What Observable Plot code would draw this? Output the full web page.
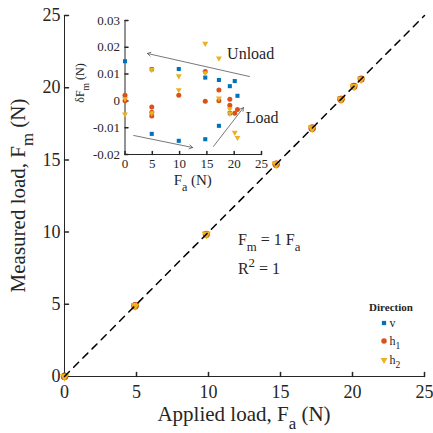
<!DOCTYPE html>
<html><head><meta charset="utf-8">
<script src="https://cdn.jsdelivr.net/npm/d3@7"></script>
<script src="https://cdn.jsdelivr.net/npm/@observablehq/plot@0.6"></script>
<style>
body{margin:0;background:#fff;}
#wrap{position:relative;width:433px;height:433px;overflow:hidden;}
#wrap svg{position:absolute;overflow:visible;}
</style></head><body><div id="wrap"></div>
<script>
// ---------- data ----------
const xTicks = [0, 5, 10, 15, 20, 25];
const yTicks = [0, 5, 10, 15, 20, 25];
const insetXTicks = [0, 5, 10, 15, 20, 25];
const insetYTicks = [-0.02, -0.01, 0, 0.01, 0.02, 0.03];

const directions = ["v", "h1", "h2"];
const dirColors = ["#0072BD", "#D95319", "#EDB120"];

const vApplied = [0, 4.9, 4.9, 9.85, 9.85, 14.7, 14.7, 17.2, 17.2, 19.2, 19.2, 20.1, 20.6];
const vDelta   = [0.0148, 0.0118, -0.0123, 0.0119, -0.0149, 0.0087, -0.0143, 0.0078, -0.0093, 0.0055, -0.0046, 0.0074, 0.0019];

const h1Applied = [0, 0, 4.9, 4.9, 4.9, 9.85, 14.7, 14.7, 17.2, 17.2, 19.2, 19.2, 20.1, 20.6];
const h1Delta   = [0.0021, 0.0001, -0.0023, -0.0042, -0.0056, 0.0021, 0.0110, -0.0001, 0.0041, 0.0001, 0.0006, -0.0016, -0.0046, -0.0032];

const h2Applied = [0, 0, 4.9, 4.9, 9.85, 9.85, 14.7, 14.7, 17.2, 17.2, 19.2, 19.2, 20.1, 20.6];
const h2Delta   = [0.0008, -0.0050, 0.0116, -0.0045, 0.0093, 0.0041, 0.0214, 0.0104, 0.0159, 0.0010, -0.0030, -0.0047, -0.0118, -0.0137];

const fitSlope = 1;
const fitRange = [0, 25];

// inset annotation arrows (data coordinates of inset)
const insetArrows = [
  {x1: 22.8, y1: 0.0091, x2: 4.1, y2: 0.0177},
  {x1: 16.2, y1: -0.0170, x2: 21.7, y2: -0.0025},
  {x1: 1.6, y1: -0.0129, x2: 12.4, y2: -0.0174}
];
const insetLabels = [
  {x: 18.7, y: 0.0176, text: "Unload"},
  {x: 22.1, y: -0.0063, text: "Load"}
];
const fitTextPos = {x: 12.08, y1: 9.07, y2: 7.06};

// ---------- build rows ----------
function rows(dir, A, D) { return A.map((a, i) => ({dir, applied: a, delta: D[i], measured: a + D[i]})); }
const vRows = rows("v", vApplied, vDelta);
const h1Rows = rows("h1", h1Applied, h1Delta);
const h2Rows = rows("h2", h2Applied, h2Delta);

const FONT = '"Liberation Serif","Times New Roman",serif';
const INK = "#262626";
const tickShape = {draw(ctx, l) { ctx.moveTo(0, 0); ctx.lineTo(0, -l); }};

function rich(sel, parts, size) {
  let shift = 0;
  for (const [t, k] of parts) {
    const target = k === "sub" ? size * 0.4 : k === "sup" ? -size * 0.42 : 0;
    const ts = sel.append("tspan").text(t).attr("dy", target - shift);
    if (k) ts.attr("font-size", size * 0.8);
    shift = target;
  }
}
function addText(svg, x, y, size, anchor) {
  return svg.append("text").attr("x", x).attr("y", y).attr("text-anchor", anchor)
    .attr("font-family", FONT).attr("font-size", size).attr("fill", INK).style("white-space", "pre");
}

// ---------- main plot ----------
const W = 433, H = 433;
const main = Plot.plot({
  width: W, height: H,
  marginLeft: 64, marginRight: 9, marginTop: 15, marginBottom: 57,
  x: {domain: [0, 25]},
  y: {domain: [0, 25]},
  style: {fontFamily: FONT, fontSize: "18px", color: INK, background: "transparent"},
  marks: [
    Plot.ruleY([0], {stroke: INK, strokeWidth: 1}),
    Plot.ruleX([0], {stroke: INK, strokeWidth: 1}),
    Plot.vector(xTicks, {x: d => d, y: () => 0, length: 4, rotate: 0, anchor: "start", shape: tickShape, stroke: INK}),
    Plot.vector(yTicks, {x: () => 0, y: d => d, length: 4, rotate: 90, anchor: "start", shape: tickShape, stroke: INK}),
    Plot.axisX(xTicks, {tickSize: 0, tickPadding: 9, label: null, fontSize: 18, fill: INK}),
    Plot.axisY(yTicks, {tickSize: 0, tickPadding: 4, label: null, fontSize: 18, fill: INK}),
    Plot.dot(vRows, {x: "applied", y: "measured", symbol: "square", fill: dirColors[0], r: 3}),
    Plot.dot(h1Rows, {x: "applied", y: "measured", symbol: "circle", fill: dirColors[1], r: 3.6}),
    Plot.dot(h2Rows, {x: "applied", y: "measured", symbol: "triangle", rotate: 180, fill: dirColors[2], r: 3.2}),
    Plot.line(fitRange, {x: d => d, y: d => fitSlope * d, stroke: "#000", strokeWidth: 1.5, strokeDasharray: "7,6"})
  ]
});
main.style.left = "0px"; main.style.top = "0px";
const sx = main.scale("x"), sy = main.scale("y");
const msvg = d3.select(main);

// axis labels
const xl = addText(msvg, (64 + (W - 9)) / 2, 421, 21, "middle");
rich(xl, [["Applied load, F", ""], ["a", "sub"], [" (N)", ""]], 21);
const yl = addText(msvg, 0, 0, 21, "middle").attr("transform", `translate(25,${(15 + (H - 57)) / 2}) rotate(-90)`);
rich(yl, [["Measured load, F", ""], ["m", "sub"], [" (N)", ""]], 21);

// fit text
const ft1 = addText(msvg, sx.apply(fitTextPos.x), sy.apply(fitTextPos.y1), 16, "start");
rich(ft1, [["F", ""], ["m", "sub"], [" = 1 F", ""], ["a", "sub"]], 16);
const ft2 = addText(msvg, sx.apply(fitTextPos.x), sy.apply(fitTextPos.y2), 16, "start");
rich(ft2, [["R", ""], ["2", "sup"], [" = 1", ""]], 16);

// legend
const lg = msvg.append("g");
addText(lg, 391, 311, 11, "middle").attr("font-weight", "bold").text("Direction");
const legSym = [d3.symbolSquare, d3.symbolCircle, d3.symbolTriangle];
const legY = [323, 341, 360];
const legSize = [18, 24, 20];
const legSub = [null, "1", "2"];
directions.forEach((d, i) => {
  lg.append("path").attr("d", d3.symbol(legSym[i], legSize[i])())
    .attr("transform", `translate(384,${legY[i]})${i === 2 ? " rotate(180)" : ""}`)
    .attr("fill", dirColors[i]);
  const t = addText(lg, 389.5, legY[i] + 3.5, 12, "start");
  if (legSub[i]) rich(t, [["h", ""], [legSub[i], "sub"]], 12); else t.text(d);
});

document.getElementById("wrap").appendChild(main);

// ---------- inset plot ----------
const IL = 60, IW = 213, IH = 194, IML = 64.5, IMR = 12, IMT = 20, IMB = 40;
const inset = Plot.plot({
  width: IW, height: IH,
  marginLeft: IML, marginRight: IMR, marginTop: IMT, marginBottom: IMB,
  x: {domain: [0, 25]},
  y: {domain: [-0.02, 0.03]},
  style: {fontFamily: FONT, fontSize: "13px", color: INK, background: "transparent"},
  marks: [
    Plot.ruleY([-0.02], {stroke: INK}),
    Plot.ruleX([0], {stroke: INK}),
    Plot.vector(insetXTicks, {x: d => d, y: () => -0.02, length: 3, rotate: 0, anchor: "start", shape: tickShape, stroke: INK}),
    Plot.vector(insetYTicks, {x: () => 0, y: d => d, length: 3, rotate: 90, anchor: "start", shape: tickShape, stroke: INK}),
    Plot.axisX(insetXTicks, {tickSize: 0, tickPadding: 4, label: null, fontSize: 13, fill: INK}),
    Plot.axisY(insetYTicks, {tickSize: 0, tickPadding: 5, label: null, fontSize: 13, fill: INK, tickFormat: d => String(d)}),
    Plot.arrow(insetArrows, {x1: "x1", y1: "y1", x2: "x2", y2: "y2", stroke: "#555", strokeWidth: 0.8, headLength: 7}),
    Plot.text(insetLabels, {x: "x", y: "y", text: "text", textAnchor: "start", fontSize: 16, fill: INK}),
    Plot.dot(vRows, {x: "applied", y: "delta", symbol: "square", fill: dirColors[0], r: 2.3}),
    Plot.dot(h1Rows, {x: "applied", y: "delta", symbol: "circle", fill: dirColors[1], r: 2.5}),
    Plot.dot(h2Rows, {x: "applied", y: "delta", symbol: "triangle", rotate: 180, fill: dirColors[2], r: 2.2})
  ]
});
inset.style.left = IL + "px"; inset.style.top = "0px";
const isvg = d3.select(inset);
const ixl = addText(isvg, (IML + (IW - IMR)) / 2, 185, 15, "middle");
rich(ixl, [["F", ""], ["a", "sub"], [" (N)", ""]], 15);
const iyl = addText(isvg, 0, 0, 12, "middle").attr("transform", `translate(24,83) rotate(-90)`);
rich(iyl, [["δF", ""], ["m", "sub"], [" (N)", ""]], 12);
document.getElementById("wrap").appendChild(inset);
</script></body></html>
